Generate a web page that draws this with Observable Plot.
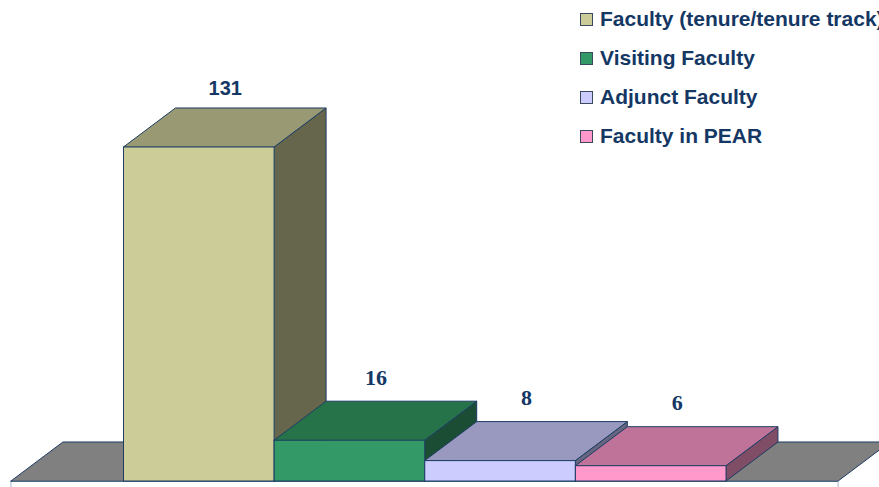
<!DOCTYPE html>
<html>
<head>
<meta charset="utf-8">
<script src="https://cdn.jsdelivr.net/npm/d3@7"></script>
<script src="https://cdn.jsdelivr.net/npm/@observablehq/plot@0.6"></script>
<style>
  html, body { margin: 0; padding: 0; background: #fff; overflow: hidden; }
  #wrap { position: relative; width: 879px; height: 487px; }
  #legend { position: absolute; left: 580px; top: 0; font-family: "Liberation Sans", Arial, sans-serif; font-weight: bold; font-size: 21px; color: #143764; white-space: nowrap; }
  .row { position: absolute; left: 0; height: 24px; display: flex; align-items: center; }
  .sw { width: 11px; height: 11px; border: 1px solid #3a4a5e; margin-right: 7px; box-sizing: content-box; }
</style>
</head>
<body>
<div id="wrap"><div id="legend"></div></div>
<script>
const categories = ["Faculty (tenure/tenure track)", "Visiting Faculty", "Adjunct Faculty", "Faculty in PEAR"];
const counts = [131, 16, 8, 6];
const frontColors = ["#cccc99", "#339966", "#ccccff", "#ff99cc"];
const topColors = ["#999973", "#267349", "#9999bf", "#bf7399"];
const sideColors = ["#66664d", "#1a4d33", "#666680", "#804d66"];

const DX = 0.345, DY = 15.3;          // 3D depth offset (x in category units, y in value units)
const floorX = [-0.747, 4.744];
const edge = "#1c3c64";
const labelColor = "#143764";

const marks = [];
// floor front face (thin white slab)
marks.push(Plot.rect([{}], {x1: floorX[0], x2: floorX[1], y1: -3, y2: 0, fill: "#fff", stroke: "#a8b8cc", strokeWidth: 1}));
// floor top
marks.push(Plot.areaX([
  {y: 0, x1: floorX[0], x2: floorX[1]},
  {y: DY, x1: floorX[0] + DX, x2: floorX[1] + DX}
], {y: "y", x1: "x1", x2: "x2", fill: "#808080", stroke: edge, strokeWidth: 1}));

categories.forEach((c, i) => {
  const v = counts[i];
  // right side face
  marks.push(Plot.areaY([
    {x: i + 1, y1: 0, y2: v},
    {x: i + 1 + DX, y1: DY, y2: v + DY}
  ], {x: "x", y1: "y1", y2: "y2", fill: sideColors[i], stroke: edge, strokeWidth: 1}));
  // top face
  marks.push(Plot.areaX([
    {y: v, x1: i, x2: i + 1},
    {y: v + DY, x1: i + DX, x2: i + 1 + DX}
  ], {y: "y", x1: "x1", x2: "x2", fill: topColors[i], stroke: edge, strokeWidth: 1}));
  // front face
  marks.push(Plot.rect([{}], {x1: i, x2: i + 1, y1: 0, y2: v, fill: frontColors[i], stroke: edge, strokeWidth: 1}));
});

const labels = categories.map((c, i) => ({x: i + 0.5 + DX / 2, y: counts[i] + DY, t: String(counts[i]), i}));
marks.push(Plot.text(labels.filter(d => d.i === 0), {x: "x", y: "y", text: "t", dy: -20, fontFamily: "Liberation Sans, Arial, sans-serif", fontWeight: "bold", fontSize: 20, fill: labelColor}));
marks.push(Plot.text(labels.filter(d => d.i > 0), {x: "x", y: "y", text: "t", dy: -24, fontFamily: "Liberation Serif, Times New Roman, serif", fontWeight: "bold", fontSize: 22, fill: labelColor}));

const chart = Plot.plot({
  width: 879,
  height: 487,
  margin: 0,
  x: {type: "linear", domain: [0, 4], range: [123.5, 726], axis: null},
  y: {type: "linear", domain: [0, 131], range: [481, 147], axis: null},
  style: {background: "transparent", overflow: "hidden"},
  marks
});
const wrap = document.getElementById("wrap");
wrap.insertBefore(chart, wrap.firstChild);

const legend = document.getElementById("legend");
categories.forEach((c, i) => {
  const row = document.createElement("div");
  row.className = "row";
  row.style.top = (7 + i * 39) + "px";
  const sw = document.createElement("div");
  sw.className = "sw";
  sw.style.background = frontColors[i];
  const tx = document.createElement("span");
  tx.textContent = c;
  row.appendChild(sw);
  row.appendChild(tx);
  legend.appendChild(row);
});
</script>
</body>
</html>
